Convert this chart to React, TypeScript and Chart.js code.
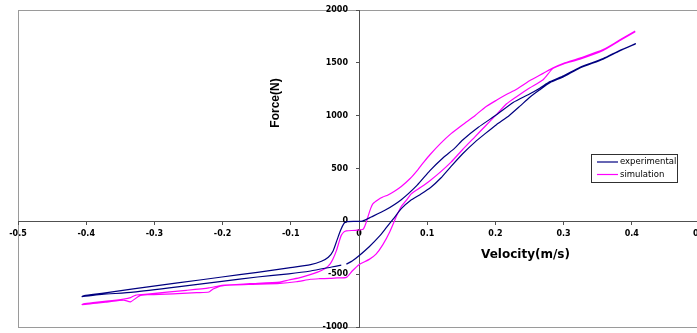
import React, { useEffect, useRef } from 'react';
import { Chart, registerables } from 'chart.js';

Chart.register(...registerables);

// ---- data ----
const seriesLabels = ['experimental', 'simulation'];
const axisTitles = ['Velocity(m/s)', 'Force(N)'];

const xTicks = [-0.5, -0.4, -0.3, -0.2, -0.1, 0, 0.1, 0.2, 0.3, 0.4, 0.5];
const yTicks = [-1000, -500, 0, 500, 1000, 1500, 2000];

// experimental loop (velocity m/s, force N); null = break in the trace
const expVelocity = [
  0.406, 0.382, 0.358, 0.324, 0.3, 0.28, 0.265, 0.25, 0.236, 0.22, 0.2015, 0.185, 0.17, 0.152, 0.135, 0.12, 0.105, 0.09, 0.075, 0.062, 0.05, 0.04, 0.03, 0.015, 0.0, -0.01, -0.0185,
  null,
  -0.026, -0.04, -0.071, -0.103, -0.149, -0.201, -0.266, -0.331, -0.377, -0.406,
  -0.403, -0.377, -0.331, -0.266, -0.201, -0.149, -0.103, -0.071, -0.055, -0.045, -0.038, -0.032, -0.027, -0.022, -0.018, -0.005, 0.005,
  0.018, 0.038, 0.062, 0.085, 0.104, 0.123, 0.14, 0.152, 0.175, 0.2015, 0.226, 0.25, 0.265, 0.28, 0.3, 0.324, 0.358, 0.382, 0.406,
];
const expForce = [
  1680, 1612, 1535, 1452, 1368, 1312, 1245, 1172, 1090, 1000, 915, 830, 750, 640, 520, 410, 320, 255, 195, 120, 20, -60, -140, -240, -325, -375, -405,
  null,
  -415, -432, -470, -497, -527, -568, -621, -670, -692, -712,
  -703, -682, -640, -583, -527, -483, -441, -410, -378, -340, -280, -173, -85, -20, -3, 0, 2,
  41, 104, 205, 340, 480, 600, 690, 770, 890, 1008, 1125, 1205, 1260, 1322, 1378, 1458, 1540, 1617, 1683,
];

// simulation loop
const simVelocity = [
  0.405, 0.382, 0.358, 0.324, 0.3, 0.284, 0.27, 0.25, 0.231, 0.216, 0.2015, 0.185, 0.17, 0.152, 0.135, 0.12, 0.104, 0.09, 0.077, 0.0695, 0.062, 0.055, 0.045, 0.035, 0.025, 0.015, 0.0, -0.01, -0.0185,
  -0.032, -0.043, -0.058, -0.071, -0.092, -0.116, -0.162, -0.201, -0.214, -0.22, -0.238, -0.266, -0.31, -0.322, -0.335, -0.345, -0.37, -0.406,
  -0.404, -0.39, -0.37, -0.345, -0.335, -0.328, -0.31, -0.253, -0.22, -0.201, -0.16, -0.116, -0.103, -0.085, -0.067, -0.055, -0.048, -0.042, -0.038, -0.033, -0.029, -0.026, -0.022, -0.0185, -0.005, 0.006,
  0.01, 0.013, 0.017, 0.0205, 0.028, 0.035, 0.0425, 0.052, 0.062, 0.075, 0.0865, 0.095, 0.104, 0.12, 0.135, 0.152, 0.17, 0.185, 0.2015, 0.216, 0.231, 0.25, 0.27, 0.284, 0.3, 0.324, 0.358, 0.382, 0.405,
];
const simForce = [
  1795, 1708, 1617, 1535, 1490, 1445, 1340, 1262, 1180, 1110, 1010, 900, 800, 680, 560, 470, 385, 320, 262, 200, 140, 50, -100, -220, -310, -360, -410, -470, -530,
  -535, -540, -543, -548, -572, -588, -598, -610, -640, -669, -675, -685, -695, -705, -762, -745, -764, -788,
  -780, -768, -755, -735, -722, -700, -688, -653, -630, -605, -590, -575, -555, -530, -495, -465, -440, -400, -355, -275, -190, -133, -100, -90, -85, -75,
  -20, 41, 120, 168, 205, 230, 250, 285, 330, 405, 490, 560, 630, 740, 830, 915, 1000, 1080, 1146, 1200, 1250, 1330, 1400, 1450, 1495, 1545, 1625, 1715, 1800,
];

const seriesColors = ['#000080', '#FF00FF'];

function toPoints(xs: (number | null)[], ys: (number | null)[]) {
  return xs.map((x, i) => ({ x: x as any, y: ys[i] as any }));
}

const framePlugin = {
  id: 'frame',
  beforeDraw(chart: any) {
    const { ctx, chartArea } = chart;
    ctx.save();
    ctx.fillStyle = '#ffffff';
    ctx.fillRect(0, 0, chart.width, chart.height);
    ctx.strokeStyle = '#9a9a9a';
    ctx.lineWidth = 1;
    ctx.strokeRect(
      Math.round(chartArea.left) + 0.5,
      Math.round(chartArea.top) + 0.5,
      Math.round(chartArea.right - chartArea.left),
      Math.round(chartArea.bottom - chartArea.top)
    );
    ctx.restore();
  },
  beforeDatasetsDraw(chart: any) {
    // y tick labels, placed left of the centred y axis
    const { ctx } = chart;
    const xs = chart.scales.x;
    const ys = chart.scales.y;
    const x0 = xs.getPixelForValue(0) - 3 - 8;
    ctx.save();
    ctx.fillStyle = '#000';
    ctx.font = 'bold 8px "DejaVu Sans"';
    ctx.textAlign = 'right';
    ctx.textBaseline = 'middle';
    yTicks.forEach((v) => ctx.fillText(String(v), x0, ys.getPixelForValue(v)));
    ctx.restore();
  },
};

const decorPlugin = {
  id: 'decor',
  afterDraw(chart: any) {
    const { ctx } = chart;
    ctx.save();
    // axis titles
    ctx.fillStyle = '#000';
    ctx.textAlign = 'center';
    ctx.textBaseline = 'middle';
    ctx.font = 'bold 12px "DejaVu Sans"';
    ctx.fillText(axisTitles[0], 525.5, 255);
    ctx.translate(276, 103);
    ctx.rotate(-Math.PI / 2);
    ctx.font = 'bold 12px "Liberation Sans"';
    ctx.fillText(axisTitles[1], 0, 0);
    ctx.restore();

    // legend
    ctx.save();
    const bx = 591, by = 154, bw = 86, bh = 28;
    ctx.fillStyle = '#ffffff';
    ctx.fillRect(bx, by, bw, bh);
    ctx.strokeStyle = '#303030';
    ctx.lineWidth = 1;
    ctx.strokeRect(bx + 0.5, by + 0.5, bw, bh);
    ctx.font = '8.5px "DejaVu Sans"';
    ctx.textAlign = 'left';
    ctx.textBaseline = 'middle';
    chart.data.datasets.forEach((ds: any, i: number) => {
      const y = by + 8 + i * 12.5;
      ctx.strokeStyle = ds.borderColor;
      ctx.lineWidth = 1.2;
      ctx.beginPath();
      ctx.moveTo(597, y);
      ctx.lineTo(618, y);
      ctx.stroke();
      ctx.fillStyle = '#000';
      ctx.fillText(ds.label, 620, y);
    });
    ctx.restore();
  },
};

export default function App() {
  const ref = useRef<HTMLCanvasElement | null>(null);

  useEffect(() => {
    if (!ref.current) return;
    const tickFont = { family: '"DejaVu Sans"', size: 8, weight: 'bold' as const };
    const chart = new Chart(ref.current, {
      type: 'scatter',
      data: {
        datasets: [
          {
            label: seriesLabels[0],
            data: toPoints(expVelocity, expForce),
            borderColor: seriesColors[0],
            backgroundColor: seriesColors[0],
            borderWidth: 1.2,
            showLine: true,
            pointRadius: 0,
            tension: 0.2,
            spanGaps: false,
          },
          {
            label: seriesLabels[1],
            data: toPoints(simVelocity, simForce),
            borderColor: seriesColors[1],
            backgroundColor: seriesColors[1],
            borderWidth: 1.2,
            showLine: true,
            pointRadius: 0,
            tension: 0.2,
            spanGaps: false,
          },
        ],
      },
      options: {
        animation: false,
        responsive: false,
        devicePixelRatio: 1,
        layout: { padding: { left: 18, top: 10, right: 20, bottom: 6 } },
        plugins: { legend: { display: false }, tooltip: { enabled: false } },
        scales: {
          x: {
            type: 'linear',
            position: { y: 0 } as any,
            min: xTicks[0],
            max: xTicks[xTicks.length - 1],
            afterBuildTicks: (s: any) => {
              s.ticks = xTicks.map((v) => ({ value: v }));
            },
            ticks: {
              font: tickFont,
              color: '#000',
              padding: 5,
              maxRotation: 0,
              autoSkip: false,
              callback: (v: any) => (Math.abs(Number(v)) < 1e-9 ? '0' : Number(v).toFixed(1)),
            },
            grid: { drawOnChartArea: false, drawTicks: true, tickLength: 3, color: '#505050' },
            border: { display: true, color: '#505050', width: 1 },
            afterFit: (s: any) => {
              s.height = 0;
              s.paddingLeft = 0;
              s.paddingRight = 0;
            },
          },
          y: {
            type: 'linear',
            position: { x: 0 } as any,
            min: yTicks[0],
            max: yTicks[yTicks.length - 1],
            afterBuildTicks: (s: any) => {
              s.ticks = yTicks.map((v) => ({ value: v }));
            },
            ticks: { display: false },
            grid: { drawOnChartArea: false, drawTicks: true, tickLength: 3, color: '#505050' },
            border: { display: true, color: '#505050', width: 1 },
            afterFit: (s: any) => {
              s.width = 0;
              s.paddingTop = 0;
              s.paddingBottom = 0;
            },
          },
        },
      } as any,
      plugins: [framePlugin, decorPlugin],
    });
    return () => chart.destroy();
  }, []);

  return (
    <div
      style={{
        position: 'absolute',
        left: 0,
        top: 0,
        width: 697,
        height: 333,
        overflow: 'hidden',
        background: '#fff',
      }}
    >
      <canvas ref={ref} width={720} height={333} style={{ display: 'block', width: 720, height: 333 }} />
    </div>
  );
}
